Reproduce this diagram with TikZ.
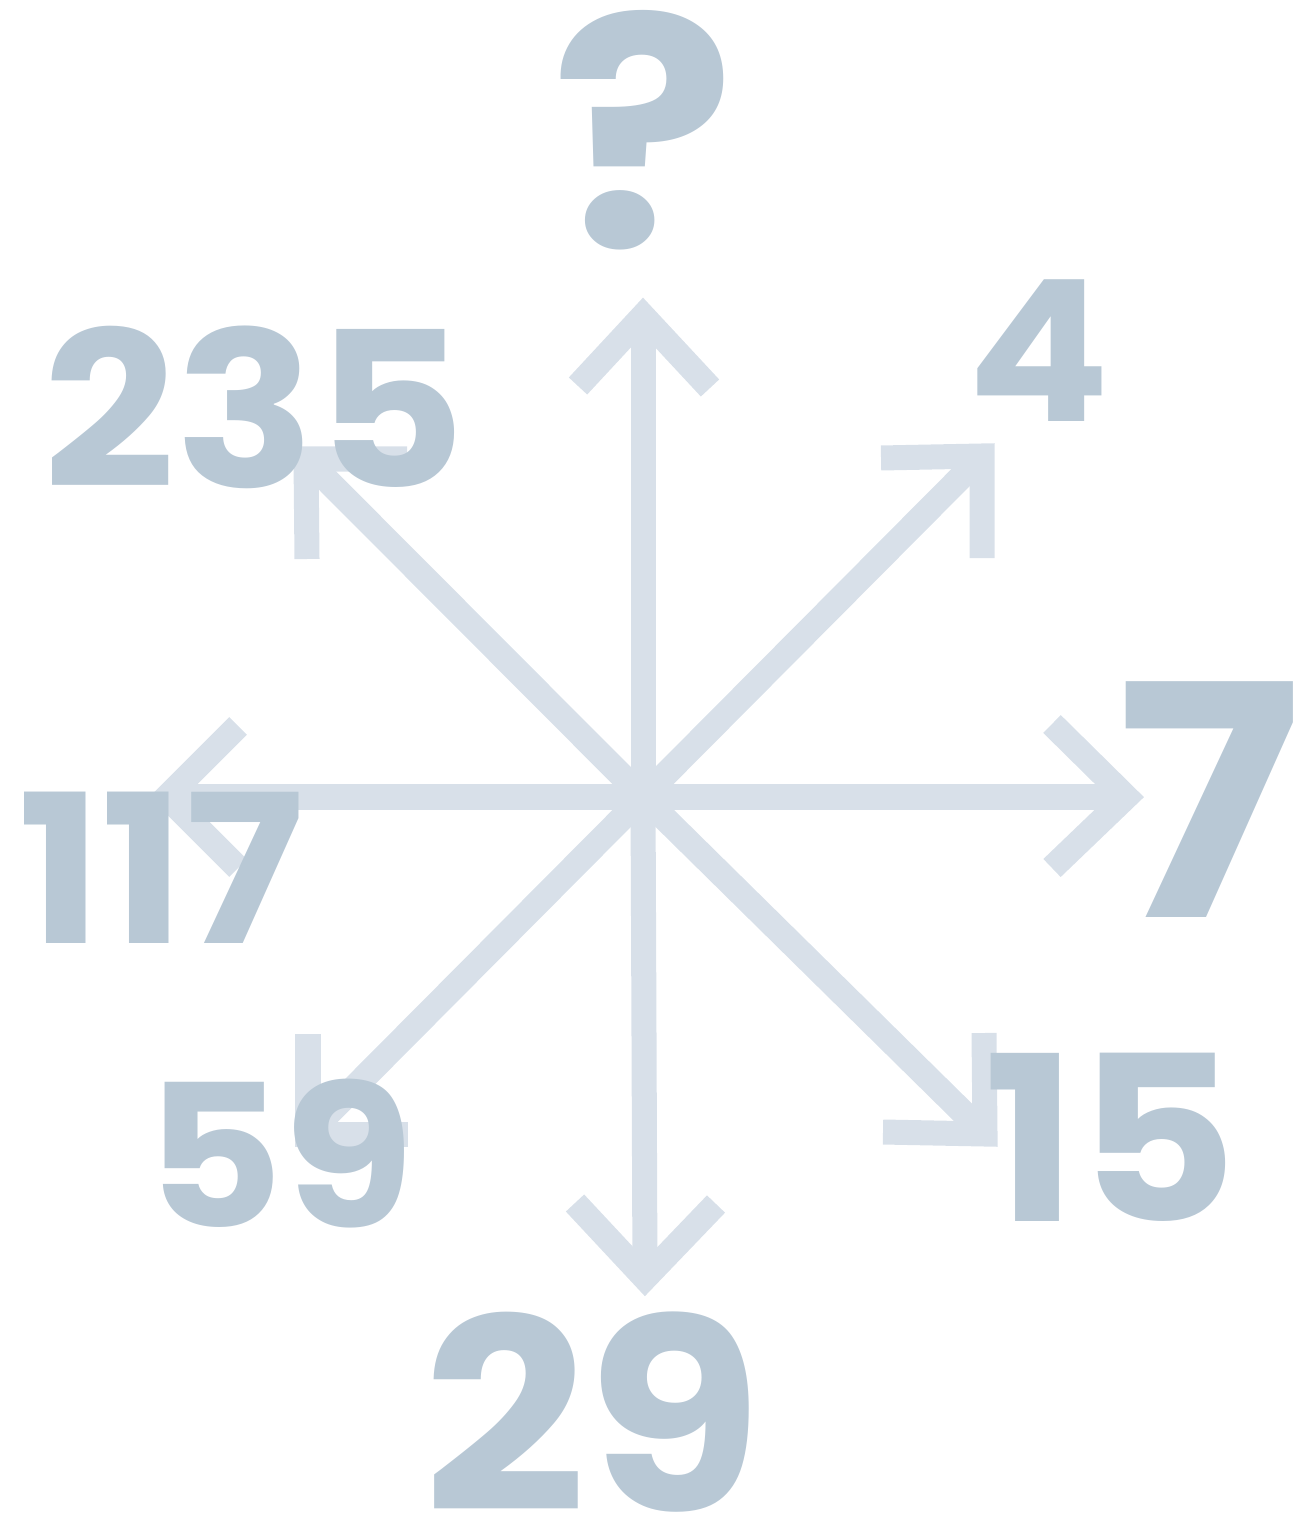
\documentclass[tikz,border=0pt]{standalone}
\usepackage{fontspec}
\newfontfamily\numfont{Poppins}[FakeStretch=1.07]
\definecolor{figA}{RGB}{216,224,233}
\definecolor{figN}{RGB}{184,200,213}

\begin{document}
\begin{tikzpicture}[x=0.01cm,y=-0.01cm,
  arr/.style={figA,line width=0.25cm,miter limit=10},
  num/.style={figN,inner sep=0pt,font=\numfont\bfseries\fontsize{#1}{#1}\selectfont}]
\useasboundingbox (0,0) rectangle (1310,1522);
% hub and the eight tips
\coordinate (c) at (643,797);
\coordinate (tN) at (643,316);
\coordinate (tNE) at (982,456);
\coordinate (tE) at (1126,797);
\coordinate (tSE) at (985,1134);
\coordinate (tS) at (645,1278);
\coordinate (tSW) at (308,1134);
\coordinate (tW) at (167,797);
\coordinate (tNW) at (306,459);
% shafts
\foreach \t in {tN,tNE,tE,tSE,tS,tSW,tW,tNW}
  \draw[arr] (c) -- (\t);
% open heads
\draw[arr] (578,386) -- (tN) -- (710,388);
\draw[arr] (881,458) -- (tNE) -- (982,558);
\draw[arr] (1052,724) -- (tE) -- (1052,868);
\draw[arr] (984,1033) -- (tSE) -- (883,1132);
\draw[arr] (575,1203) -- (tS) -- (716,1204);
\draw[arr] (308,1034) -- (tSW) -- (408,1134);
\draw[arr] (238,726) -- (tW) -- (238,868);
\draw[arr] (407,459) -- (tNW) -- (307,559);
% numbers
\node[num=91pt] (q) at (644,130) {?};
\node[num=56pt] (n4) at (1039,351) {4};
\node[num=92pt] (n7) at (1209,800) {7};
\node[num=65.5pt] (n15) at (1111,1137) {15};
\node[num=76pt] (n29) at (593,1412) {29};
\node[num=56.5pt] (n59) at (280,1154) {59};
\node[num=59pt] (n117) at (161,868) {117};
\node[num=61.5pt] (n235) at (255,407) {235};
\end{tikzpicture}
\end{document}
